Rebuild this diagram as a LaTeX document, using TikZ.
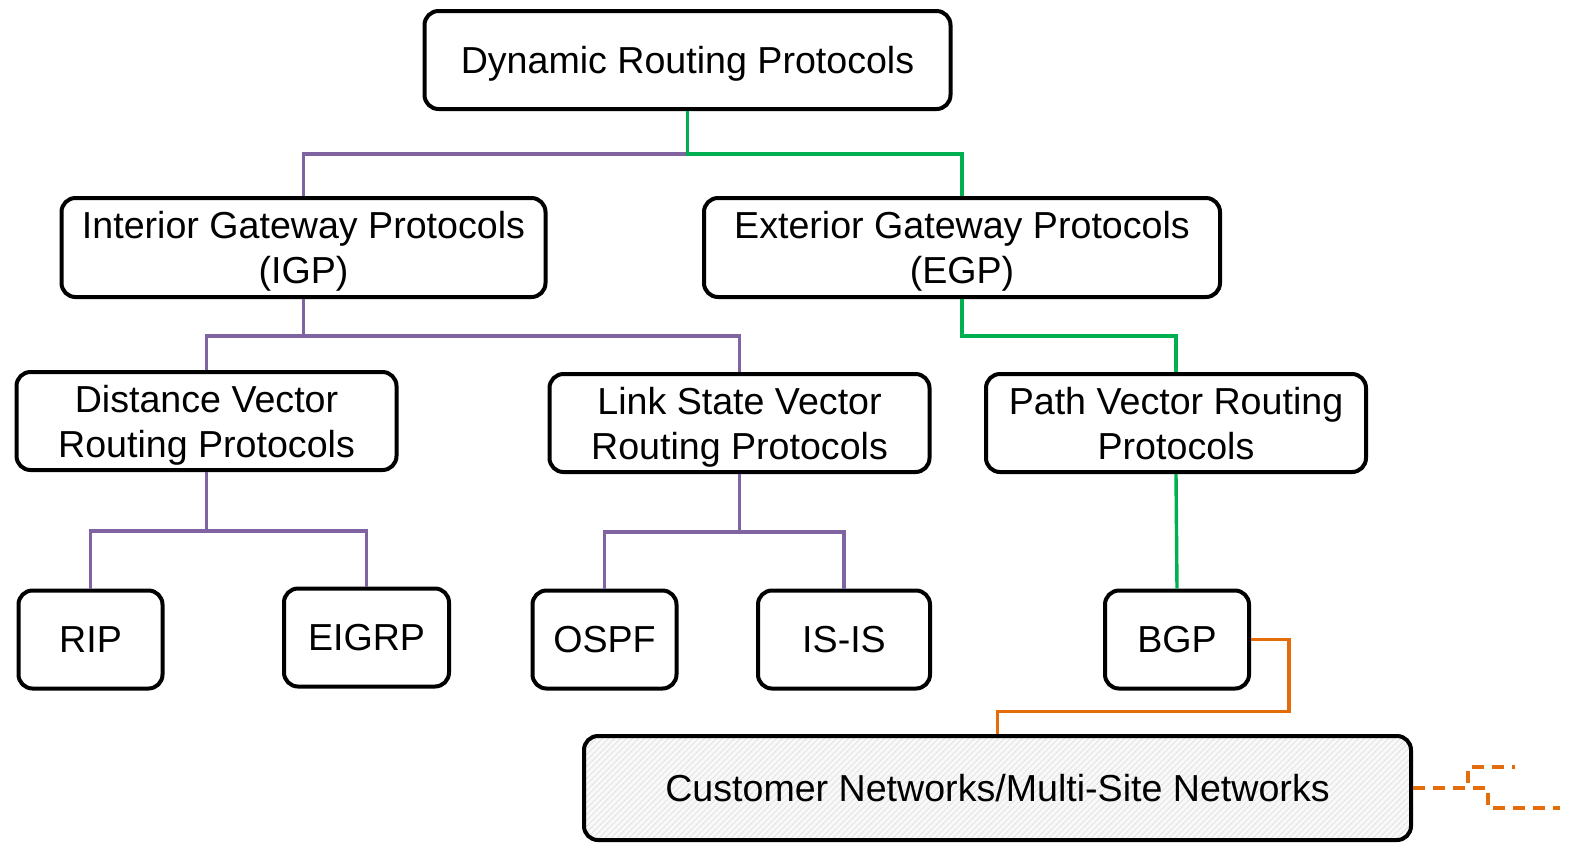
\documentclass[tikz,border=0pt]{standalone}
\usepackage{fontspec}
\setmainfont{Liberation Sans}
\usetikzlibrary{positioning,patterns}
\definecolor{igpcol}{RGB}{128,100,162}
\definecolor{egpcol}{RGB}{0,176,80}
\definecolor{custcol}{RGB}{228,108,10}

\begin{document}
\begin{tikzpicture}[
  x=0.5pt, y=-0.5pt,
  every node/.style={font=\fontsize{18.8}{22.5}\selectfont},
  box/.style={draw=black, line width=2pt, rounded corners=7pt, align=center, inner sep=0pt, text depth=0pt},
  leaf/.style={box, minimum width=72pt, minimum height=49pt},
  igp/.style={igpcol, line width=1.7pt},
  egp/.style={egpcol, line width=1.7pt},
  link/.style={custcol, line width=1.7pt},
  dlink/.style={custcol, line width=2.1pt, dash pattern=on 6pt off 4pt}
]
\useasboundingbox (0,0) rectangle (1570,843);

% ---------------- root ----------------
\node[box, minimum width=263pt, minimum height=49pt] (drp) at (687.5,60) {Dynamic Routing Protocols};

% ---------------- gateway families ----------------
\node[box, minimum width=242pt, minimum height=49.5pt] (igp) at (303.5,247.5)
  {Interior Gateway Protocols\\(IGP)};
\node[box, minimum width=258pt, minimum height=49.5pt] (egp) at (962,247.5)
  {Exterior Gateway Protocols\\(EGP)};

% ---------------- protocol classes ----------------
\node[box, minimum width=190pt, minimum height=49pt] (dv) at (206.5,421)
  {Distance Vector\\Routing Protocols};
\node[box, minimum width=190pt, minimum height=49pt] (ls) at (739.5,423)
  {Link State Vector\\Routing Protocols};
\node[box, minimum width=190pt, minimum height=49pt] (pv) at (1176,423)
  {Path Vector Routing\\Protocols};

% ---------------- protocols ----------------
\node[leaf] (rip) at (90.5,639.5) {RIP};
\node[leaf, minimum width=82.5pt] (eigrp) at (366.5,637.5) {EIGRP};
\node[leaf] (ospf) at (604.5,639.5) {OSPF};
\node[leaf, minimum width=86pt] (isis) at (844,639.5) {IS-IS};
\node[leaf] (bgp) at (1177,639.5) {BGP};

% customer side
\node[box, minimum width=413.5pt, minimum height=52pt, preaction={fill=gray!5},
      pattern=north east lines, pattern color=gray!22] (cust) at (997.5,788)
  {Customer Networks/Multi-Site Networks};
\coordinate (offa) at (1515,767);
\coordinate (offb) at (1560,808);

% ---------------- connectors ----------------
\draw[igp] (drp.south) ++(0,43) -| (igp.north);
\draw[egp] (drp.south) -- ++(0,43) -| (egp.north);
\draw[igp] (igp.south) -- ++(0,37) -| (dv.north);
\draw[igp] (igp.south) ++(0,37) -| (ls.north);
\draw[egp] (egp.south) -- ++(0,37) -| (pv.north);
\draw[igp] (dv.south) -- ++(0,59) -| (rip.north);
\draw[igp] (dv.south) ++(0,59) -| (eigrp.north);
\draw[igp] (ls.south) -- ++(0,58) -| (ospf.north);
\draw[igp] (ls.south) ++(0,58) -| (isis.north);
\draw[egp] (pv.south) -- (bgp.north);
\draw[link] (bgp.east) -| ++(38,72) -| (cust.north);
\draw[dlink] (cust.east) -- ++(55,0) |- (offa);
\draw[dlink] (cust.east) -- ++(75,0) |- (offb);

\end{tikzpicture}
\end{document}
